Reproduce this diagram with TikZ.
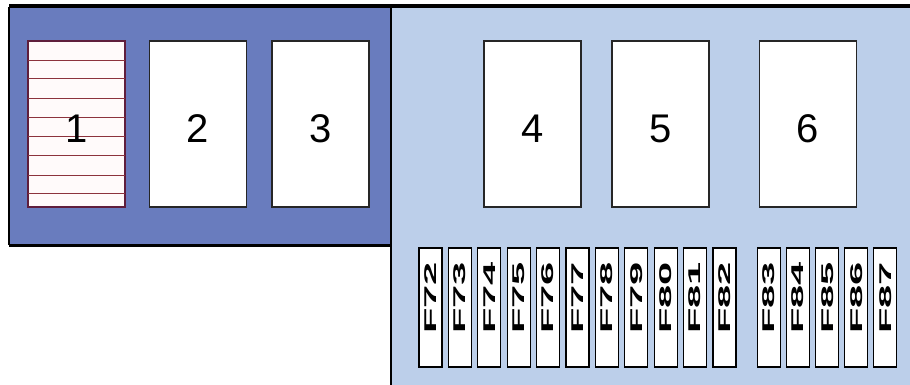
\documentclass[tikz,border=0pt]{standalone}
\usepackage{fontspec}
\setmainfont{Liberation Sans}
\usepackage{graphicx}
\definecolor{leftblue}{RGB}{105,124,190}
\definecolor{rightblue}{RGB}{188,207,234}
\definecolor{boxmaroon}{RGB}{95,30,60}
\definecolor{stripe}{RGB}{140,50,60}
\definecolor{pinkfill}{RGB}{255,250,250}
\begin{document}
\begin{tikzpicture}[x=1pt,y=-1pt,
  bigbox/.style={draw=black!85, line width=1.3pt, fill=white, minimum width=97pt, minimum height=166pt, inner sep=0pt},
  digit/.style={font=\fontsize{40}{44}\selectfont, inner sep=0pt},
  fuse/.style={draw=black, line width=1.1pt, fill=white, minimum width=23pt, minimum height=119pt, inner sep=0pt},
  fuselabel/.style={rotate=90, inner sep=0pt, font=\bfseries\fontsize{17}{18}\selectfont},
  edge/.style={draw=black}]
\useasboundingbox (0,0) rectangle (910,385);
\fill[white] (0,0) rectangle (910,385);
% panels
\fill[rightblue] (391,7) rectangle (910,385);
\fill[leftblue] (9,7) rectangle (391,245);
\draw[edge, line width=1.5pt] (9,7) -- (9,245);
\draw[edge, line width=3pt] (9,245) -- (391,245);
\draw[edge, line width=2.2pt] (391,7) -- (391,385);
\draw[edge, line width=3.5pt] (9,6) -- (910,6);
% big boxes
\node[bigbox, draw=boxmaroon, fill=pinkfill] (b1) at (76.5,124) {};
\foreach \y in {60,78,98,117,136,155,175,193}
  \draw[stripe, line width=0.7pt] (27.6,\y) -- (125.4,\y);
\node[bigbox] (b2) at (198,124) {};
\node[bigbox] (b3) at (320.5,124) {};
\node[bigbox] (b4) at (532.5,124) {};
\node[bigbox] (b5) at (660.5,124) {};
\node[bigbox] (b6) at (808,124) {};
\foreach \k in {1,...,6}
  \node[digit] (t\k) at ([yshift=-5pt]b\k.center) {\k};
% fuses
\foreach \n [count=\i from 0] in {72,...,82} {
  \node[fuse] (f\n) at (430.5+29.4*\i, 307.5) {};
  \node[fuselabel] (l\n) at ([yshift=9.5pt]f\n.center) {\scalebox{2.45}[1]{F\n}};
}
\foreach \n [count=\i from 0] in {83,...,87} {
  \node[fuse] (f\n) at (769+29.1*\i, 307.5) {};
  \node[fuselabel] (l\n) at ([yshift=9.5pt]f\n.center) {\scalebox{2.45}[1]{F\n}};
}
\end{tikzpicture}
\end{document}
